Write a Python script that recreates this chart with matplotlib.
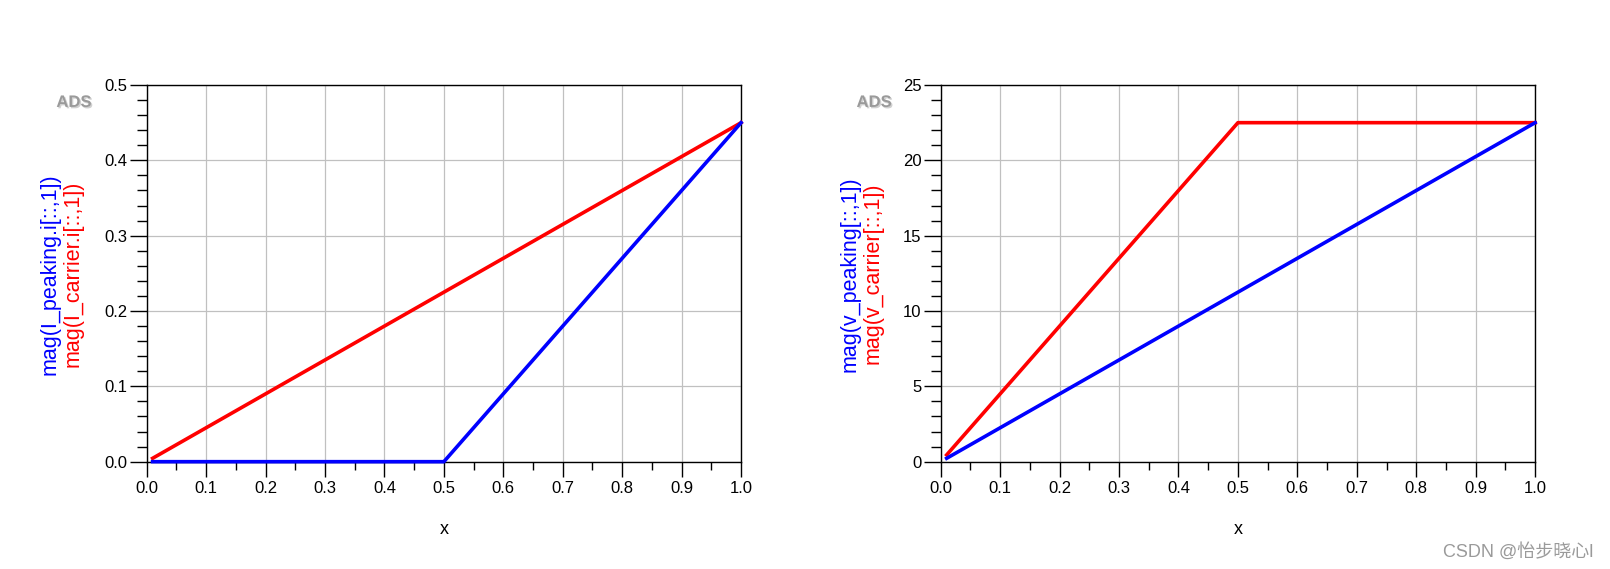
import matplotlib
matplotlib.use("Agg")
import matplotlib.pyplot as plt
import matplotlib.patheffects as pe
from matplotlib.ticker import MultipleLocator

plt.rcParams['font.family'] = ['Liberation Sans', 'Noto Sans CJK SC', 'DejaVu Sans']

# sweep points
x_pts = [0.01, 0.5, 1.0]

# left chart: currents
i_peaking = [0.0, 0.0, 0.45]
i_carrier = [0.0045, 0.225, 0.45]

# right chart: voltages
v_peaking = [0.225, 11.25, 22.5]
v_carrier = [0.45, 22.5, 22.5]

x_ticks = [0.0, 0.1, 0.2, 0.3, 0.4, 0.5, 0.6, 0.7, 0.8, 0.9, 1.0]
left_labels = ("mag(I_peaking.i[::,1])", "mag(I_carrier.i[::,1])")
right_labels = ("mag(v_peaking[::,1])", "mag(v_carrier[::,1])")

BLUE = "#0000ff"
RED = "#ff0000"

fig = plt.figure(figsize=(16.1, 5.69), dpi=100)


def style_axes(ax, ymax, ymajor, yminor):
    ax.set_xlim(0, 1.0)
    ax.set_ylim(0, ymax)
    ax.xaxis.set_major_locator(MultipleLocator(0.1))
    ax.xaxis.set_minor_locator(MultipleLocator(0.05))
    ax.yaxis.set_major_locator(MultipleLocator(ymajor))
    ax.yaxis.set_minor_locator(MultipleLocator(yminor))
    ax.grid(True, which='major', color='#c0c0c0', linewidth=0.9)
    ax.set_axisbelow(True)
    ax.tick_params(axis='x', which='major', direction='out', length=11, width=1,
                   labelsize=12, pad=3)
    ax.tick_params(axis='x', which='minor', direction='out', length=6, width=1)
    ax.tick_params(axis='y', which='major', direction='out', length=12, width=1,
                   labelsize=12, pad=2)
    ax.tick_params(axis='y', which='minor', direction='out', length=7, width=1)
    for s in ax.spines.values():
        s.set_linewidth(1)
        s.set_color('black')
    ax.set_xlabel("x", fontsize=13, labelpad=18)


def add_ylabels(fx, labels):
    fig.text(fx, 0.519, labels[0], color=BLUE, rotation=90, fontsize=15.5,
             ha='center', va='center')
    fig.text(fx + 0.0143, 0.519, labels[1], color=RED, rotation=90, fontsize=15.5,
             ha='center', va='center')


def add_logo(fx):
    fig.text(fx, 0.82, "ADS", color='#9a9a9a', fontsize=12, fontweight='bold',
             ha='left', va='center',
             path_effects=[pe.withSimplePatchShadow(offset=(1, -1), shadow_rgbFace='#d0d0d0', alpha=1)])


# left chart
ax1 = fig.add_axes([0.0911, 0.1886, 0.3692, 0.662])
ax1.plot(x_pts, i_carrier, color=RED, linewidth=2.6, clip_on=False, zorder=3)
ax1.plot(x_pts, i_peaking, color=BLUE, linewidth=2.6, clip_on=False, zorder=4)
style_axes(ax1, 0.5, 0.1, 0.02)
ax1.set_xticks(x_ticks)
add_ylabels(0.031, left_labels)
add_logo(0.035)

# right chart
ax2 = fig.add_axes([0.5843, 0.1886, 0.3692, 0.662])
ax2.plot(x_pts, v_carrier, color=RED, linewidth=2.6, clip_on=False, zorder=3)
ax2.plot(x_pts, v_peaking, color=BLUE, linewidth=2.6, clip_on=False, zorder=4)
style_axes(ax2, 25, 5, 1)
ax2.set_xticks(x_ticks)
add_ylabels(0.528, right_labels)
add_logo(0.532)

# watermark
fig.text(0.9894, 0.03, "CSDN @怡步晓心l", color='#9a9a9a', fontsize=13,
         ha='right', va='center')

fig.savefig("out.png", dpi=100)
